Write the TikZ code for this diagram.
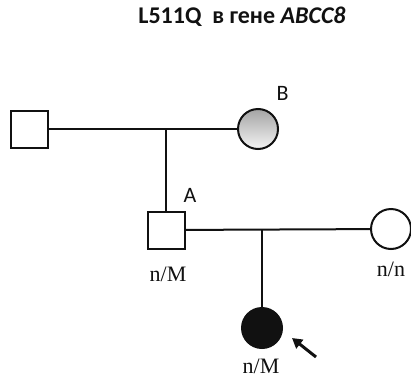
\documentclass[tikz,border=0pt]{standalone}
\usepackage{fontspec}
\setmainfont{Liberation Serif}
\newfontfamily\pedsans{Carlito}
\usepackage{tikz}
\usetikzlibrary{arrows.meta,positioning}
\definecolor{pdInk}{HTML}{111111}
\definecolor{pdDark}{HTML}{A4A4A4}
\definecolor{pdLight}{HTML}{F4F4F4}
\tikzset{
  pd diagram/.style={text=pdInk, line cap=butt, line join=miter},
  pd male/.style={draw=pdInk, fill=white, line width=2pt,
    rectangle, minimum size=37pt, inner sep=0pt},
  pd female/.style={draw=pdInk, fill=white, line width=2pt,
    circle, minimum size=40pt, inner sep=0pt},
  pd carrier/.style={top color=pdDark, bottom color=pdLight},
  pd affected/.style={fill=pdInk},
  pd line/.style={draw=pdInk, line width=2pt},
  pd arrow/.style={-{Triangle[length=10pt,width=11pt]}, draw=pdInk, line width=3pt},
  pd name/.style={font=\pedsans\fontsize{22}{24}\selectfont},
  pd geno/.style={font=\fontsize{22}{24}\selectfont}
}
\begin{document}
\begin{tikzpicture}[pd diagram,x=1pt,y=-1pt]
\useasboundingbox (0,0) rectangle (411,380);
\node[font=\pedsans\bfseries\fontsize{24}{26}\selectfont] (title) at (242,17)
  {L511Q\ \ в гене \textit{ABCC8}};
% first generation
\node[pd male] (gf) at (29.5,129) {};
\node[pd female,pd carrier] (gm) at (258,129) {};
\node[pd name] (gmname) at (282.5,93) {B};
\coordinate (cpl1) at (166,129);
\draw[pd line] (gf) -- (gm);
% second generation
\node[pd male] (a) at (166,230) {};
\node[pd name] (aname) at (190,195.5) {A};
\node[pd female] (wife) at (391,229) {};
\coordinate (cpl2) at (262,229);
\draw[pd line] (cpl1) -- (a);
\draw[pd line] (a) -- (wife);
\node[pd geno] (ageno) at (168,274) {n/M};
\node[pd geno] (wgeno) at (391,269) {n/n};
% proband
\node[pd female,pd affected] (pro) at (262,328) {};
\draw[pd line] (cpl2) -- (pro);
\node[pd geno] (pgeno) at (261,366) {n/M};
\coordinate (tail) at (316,357);
\coordinate (tip) at (292,338);
\draw[pd arrow] (tail) -- (tip);
\end{tikzpicture}
\end{document}
